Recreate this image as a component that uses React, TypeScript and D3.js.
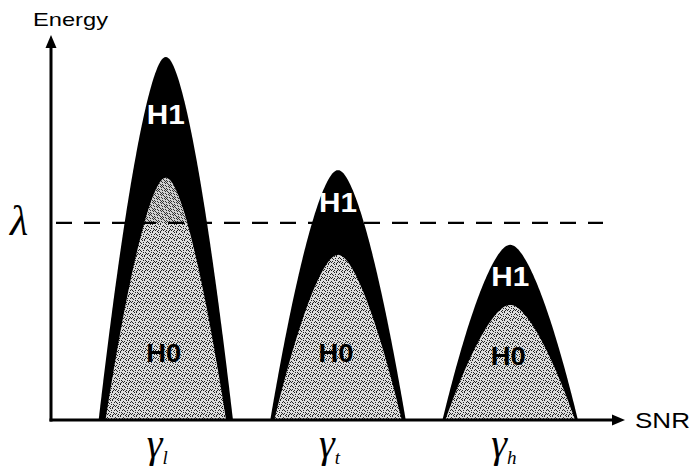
import React from "react";
import * as d3 from "d3";

// ---- data (schematic) ----
const humpNames = ["low", "threshold", "high"];
const humpCenters = [20.0, 50.0, 80.0]; // SNR units (0..100)
const outerHalfWidths = [11.7, 11.8, 11.8];
const innerHalfWidths = [10.5, 11.1, 11.3];
const outerPeaks = [94.3, 64.9, 45.5]; // energy units (0..100)
const innerPeaks = [62.9, 42.9, 29.9];
const h1LabelEnergy = [79.5, 56.5, 37.5];
const h0LabelEnergy = [17.5, 17.5, 16.5];
const lambdaEnergy = 51.2;
const gammaSubs = ["l", "t", "h"];

const W = 693;
const H = 469;

function profile(u: number) {
  const p = 1.55;
  const e = 0.12;
  const a = Math.pow(Math.sqrt(u * u + e * e), p) - Math.pow(e, p);
  const b = Math.pow(1 + e * e, p / 2) - Math.pow(e, p);
  return Math.max(0, 1 - a / b);
}

export default function App() {
  const x = d3.scaleLinear().domain([0, 100]).range([51, 625]);
  const y = d3.scaleLinear().domain([0, 100]).range([420, 35]);
  const us = d3.range(-1, 1.0001, 0.02);

  const area = d3
    .area<[number, number]>()
    .x((d) => x(d[0]))
    .y0(y(0))
    .y1((d) => y(d[1]))
    .curve(d3.curveLinear);

  const hump = (c: number, hw: number, peak: number) =>
    area(us.map((u) => [c + u * hw, peak * profile(u)] as [number, number])) || "";

  const dots: [number, number][] = [
    [0, 0], [3, 1], [5, 3], [1, 4], [4, 5], [2, 2], [6, 6], [0, 7], [7, 2], [3, 6],
    [6, 0], [1, 6], [5, 7], [7, 4], [2, 5], [4, 2],
  ];
  const dotsDense: [number, number][] = [
    [0, 0], [2, 0], [1, 1], [3, 1], [0, 2], [2, 2], [1, 3], [3, 3], [4, 4], [6, 4],
    [5, 5], [7, 5], [4, 6], [6, 6], [5, 7], [7, 7], [5, 1], [6, 2], [1, 5], [2, 6],
  ];

  const sans = "'Liberation Sans', Arial, sans-serif";
  const serif = "'Liberation Serif', 'Times New Roman', serif";

  return (
    <svg width={W} height={H} style={{ position: "absolute", left: 0, top: 0 }}>
      <defs>
        <pattern id="stip" width={8} height={8} patternUnits="userSpaceOnUse">
          <rect width={8} height={8} fill="#dcdcdc" />
          {dots.map((d, i) => (
            <rect key={i} x={d[0]} y={d[1]} width={1} height={1} fill="#222" />
          ))}
        </pattern>
        <pattern id="stipDense" width={8} height={8} patternUnits="userSpaceOnUse">
          <rect width={8} height={8} fill="#d0d0d0" />
          {dotsDense.map((d, i) => (
            <rect key={i} x={d[0]} y={d[1]} width={1} height={1} fill="#333" />
          ))}
        </pattern>
        <clipPath id="aboveLambda">
          <rect x={0} y={0} width={W} height={y(lambdaEnergy)} />
        </clipPath>
      </defs>
      <rect width={W} height={H} fill="#fff" />

      {humpNames.map((n, i) => (
        <g key={n}>
          <path d={hump(humpCenters[i], outerHalfWidths[i], outerPeaks[i])} fill="#000" />
          <path d={hump(humpCenters[i], innerHalfWidths[i], innerPeaks[i])} fill="url(#stip)" />
          <path
            d={hump(humpCenters[i], innerHalfWidths[i], innerPeaks[i])}
            fill="url(#stipDense)"
            clipPath="url(#aboveLambda)"
          />
        </g>
      ))}

      {/* threshold dashed line */}
      <line
        x1={56}
        x2={603}
        y1={y(lambdaEnergy)}
        y2={y(lambdaEnergy)}
        stroke="#000"
        strokeWidth={2.2}
        strokeDasharray="16 12"
      />

      {/* axes */}
      <line x1={x(0)} x2={x(0)} y1={y(0) + 1.5} y2={y(100) + 10} stroke="#000" strokeWidth={3} />
      <path
        d={`M${x(0)},${y(100)} L${x(0) - 5.5},${y(100) + 13} L${x(0) + 5.5},${y(100) + 13} Z`}
        fill="#000"
      />
      <line x1={x(0) - 1.5} x2={x(100) - 10} y1={y(0)} y2={y(0)} stroke="#000" strokeWidth={3} />
      <path
        d={`M${x(100)},${y(0)} L${x(100) - 13},${y(0) - 5.5} L${x(100) - 13},${y(0) + 5.5} Z`}
        fill="#000"
      />

      {/* labels */}
      {humpNames.map((n, i) => (
        <g key={n + "l"} fontFamily={sans} fontWeight="bold" textAnchor="middle">
          <text
            x={x(humpCenters[i])}
            y={y(h1LabelEnergy[i]) + 10}
            fill="#fff"
            fontSize={28}
            textLength={38}
            lengthAdjust="spacingAndGlyphs"
          >
            H1
          </text>
          <text
            x={x(humpCenters[i]) - 2}
            y={y(h0LabelEnergy[i]) + 9}
            fill="#000"
            fontSize={26}
            textLength={35}
            lengthAdjust="spacingAndGlyphs"
          >
            H0
          </text>
        </g>
      ))}

      <text x={33} y={26} fontFamily={sans} fontSize={19} textLength={75} lengthAdjust="spacingAndGlyphs">
        Energy
      </text>
      <text x={635} y={428} fontFamily={sans} fontSize={22} textLength={55} lengthAdjust="spacingAndGlyphs">
        SNR
      </text>
      <text x={10} y={235} fontFamily={serif} fontStyle="italic" fontSize={42}>
        λ
      </text>

      {humpNames.map((n, i) => (
        <text key={n + "g"} x={x(humpCenters[i]) - 19} y={457} fontFamily={serif} fontStyle="italic" fontSize={40}>
          γ
          <tspan fontSize={19} dy={7}>
            {gammaSubs[i]}
          </tspan>
        </text>
      ))}
    </svg>
  );
}
